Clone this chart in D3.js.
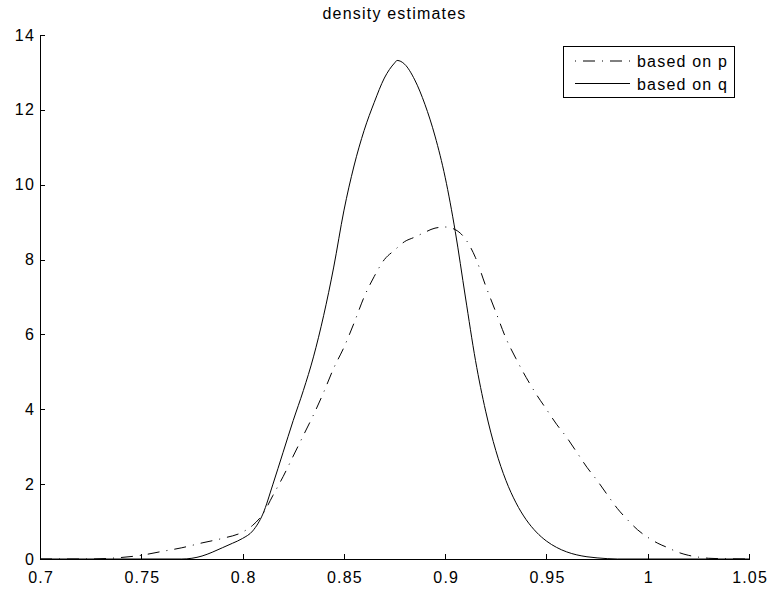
<!DOCTYPE html>
<html>
<head>
<meta charset="utf-8">
<script src="https://cdn.jsdelivr.net/npm/d3@7"></script>
<style>
  body { margin: 0; background: #fff; }
  svg { font-family: "Liberation Sans", Helvetica, Arial, sans-serif; }
  .axis path, .axis line { stroke: #000; stroke-width: 1; shape-rendering: crispEdges; }
  .axis text { font-size: 16px; fill: #000; letter-spacing: 1.2px; }
  .lbl { font-size: 16px; letter-spacing: 1.2px; }
</style>
</head>
<body>
<div id="chart"></div>
<script>
// density based on p (dash-dot)
var pX = [0.70, 0.725, 0.735, 0.74, 0.75, 0.76, 0.77, 0.78, 0.79, 0.80, 0.805, 0.81, 0.815, 0.82, 0.825,
  0.83, 0.835, 0.84, 0.845, 0.85, 0.855, 0.86, 0.865, 0.87, 0.875, 0.88, 0.885, 0.89, 0.895, 0.90,
  0.905, 0.91, 0.915, 0.92, 0.925, 0.93, 0.935, 0.94, 0.945, 0.95, 0.955, 0.96, 0.965, 0.97, 0.975,
  0.98, 0.985, 0.99, 0.995, 1.00, 1.005, 1.01, 1.015, 1.02, 1.025, 1.03, 1.035, 1.05];
var pY = [0, 0, 0.02, 0.04, 0.1, 0.2, 0.3, 0.43, 0.55, 0.72, 0.9, 1.2, 1.7, 2.2, 2.75,
  3.3, 3.85, 4.45, 5.1, 5.65, 6.3, 7.0, 7.55, 8.0, 8.25, 8.48, 8.6, 8.73, 8.84, 8.87,
  8.8, 8.55, 8.05, 7.3, 6.6, 5.9, 5.35, 4.85, 4.4, 4.0, 3.6, 3.25, 2.85, 2.45, 2.1,
  1.72, 1.35, 1.05, 0.78, 0.58, 0.42, 0.3, 0.18, 0.1, 0.05, 0.02, 0.01, 0];

// density based on q (solid)
var qX = [0.70, 0.77, 0.775, 0.78, 0.785, 0.79, 0.795, 0.80, 0.805, 0.81, 0.815, 0.82, 0.825, 0.83,
  0.835, 0.84, 0.845, 0.85, 0.855, 0.86, 0.865, 0.87, 0.875, 0.8763, 0.88, 0.885, 0.89, 0.895, 0.90,
  0.905, 0.91, 0.915, 0.92, 0.925, 0.93, 0.935, 0.94, 0.945, 0.95, 0.955, 0.96, 0.965, 0.97, 0.975,
  0.98, 0.985, 1.05];
var qY = [0, 0, 0.02, 0.08, 0.18, 0.3, 0.42, 0.55, 0.75, 1.2, 2.0, 2.85, 3.7, 4.5,
  5.4, 6.5, 7.8, 9.3, 10.5, 11.45, 12.2, 12.85, 13.25, 13.32, 13.22, 12.8, 12.15, 11.3, 10.2,
  8.75, 7.0, 5.3, 3.95, 2.9, 2.1, 1.5, 1.05, 0.72, 0.48, 0.31, 0.19, 0.11, 0.06, 0.03,
  0.01, 0, 0];

var xTicks = [0.7, 0.75, 0.8, 0.85, 0.9, 0.95, 1, 1.05];
var yTicks = [0, 2, 4, 6, 8, 10, 12, 14];
var seriesNames = ["based on p", "based on q"];
var title = "density estimates";

var width = 770, height = 590;
var margin = { top: 35, right: 21, bottom: 31, left: 40 };

var svg = d3.select("#chart").append("svg")
  .attr("width", width)
  .attr("height", height);

var x = d3.scaleLinear().domain([0.7, 1.05]).range([margin.left, width - margin.right]);
var y = d3.scaleLinear().domain([0, 14]).range([height - margin.bottom, margin.top]);

// axes, ticks pointing inward like matlab
svg.append("g")
  .attr("class", "axis")
  .attr("transform", "translate(0," + y(0) + ")")
  .call(d3.axisBottom(x).tickValues(xTicks).tickSizeInner(-5).tickSizeOuter(0).tickPadding(9)
    .tickFormat(function (d) { return d3.format("")(+d.toFixed(2)); }))
  .call(function (g) { g.selectAll("text").attr("dy", "0.95em").attr("dx", "0.6px"); });

svg.append("g")
  .attr("class", "axis")
  .attr("transform", "translate(" + x(0.7) + ",0)")
  .call(d3.axisLeft(y).tickValues(yTicks).tickSizeInner(-5).tickSizeOuter(0).tickPadding(5));

var line = d3.line()
  .x(function (d) { return x(d[0]); })
  .y(function (d) { return y(d[1]); })
  .curve(d3.curveMonotoneX);

svg.append("path")
  .datum(d3.zip(pX, pY))
  .attr("fill", "none")
  .attr("stroke", "#000")
  .attr("stroke-width", 1)
  .attr("stroke-dasharray", "12,7,1,7")
  .attr("d", line);

svg.append("path")
  .datum(d3.zip(qX, qY))
  .attr("fill", "none")
  .attr("stroke", "#000")
  .attr("stroke-width", 1)
  .attr("d", line);

svg.append("text")
  .attr("class", "lbl")
  .attr("x", (x(0.7) + x(1.05)) / 2)
  .attr("y", 19)
  .attr("text-anchor", "middle")
  .text(title);

// legend
var legend = svg.append("g").attr("transform", "translate(563,46)");
legend.append("rect")
  .attr("width", 171)
  .attr("height", 51)
  .attr("fill", "#fff")
  .attr("stroke", "#000")
  .attr("stroke-width", 1)
  .attr("shape-rendering", "crispEdges");

var dashes = ["1,7,12,7", null];
seriesNames.forEach(function (name, i) {
  var cy = 15 + i * 22.5;
  legend.append("line")
    .attr("x1", 12).attr("x2", 67)
    .attr("y1", cy).attr("y2", cy)
    .attr("stroke", "#000")
    .attr("stroke-dasharray", dashes[i]);
  legend.append("text")
    .attr("class", "lbl")
    .attr("x", 74)
    .attr("y", cy)
    .attr("dy", "0.38em")
    .text(name);
});
</script>
</body>
</html>
